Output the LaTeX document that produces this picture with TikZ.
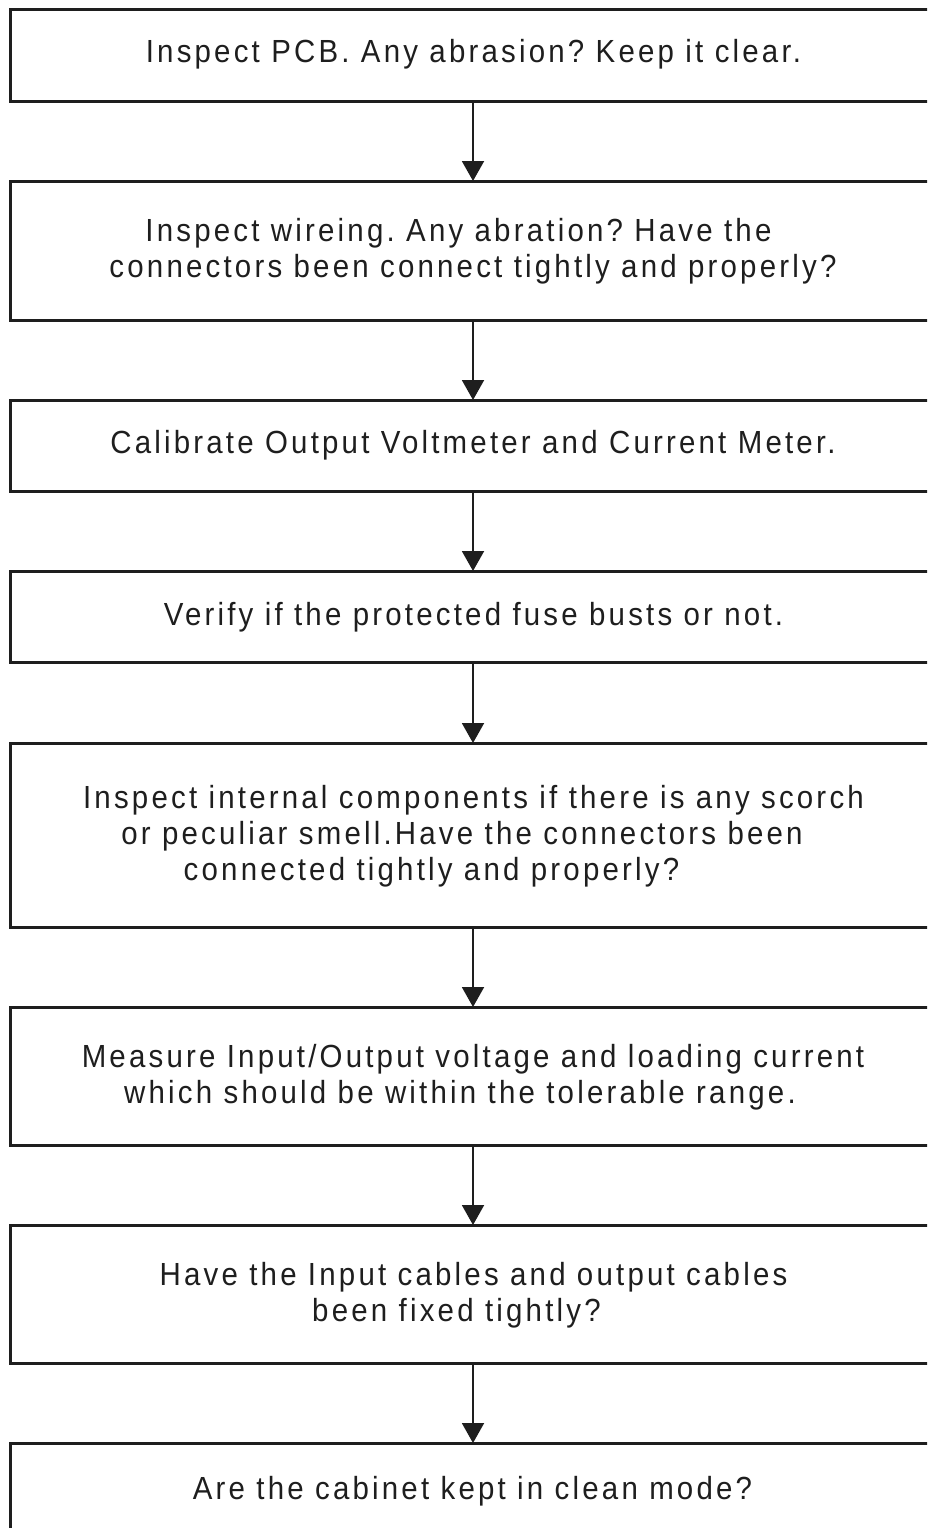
\documentclass[tikz,border=0pt]{standalone}
\usepackage{fontspec}
\setmainfont{Liberation Sans}[FakeStretch=0.92,LetterSpace=10]
\usetikzlibrary{arrows.meta}
\definecolor{ink}{HTML}{1E1E1E}
\tikzset{
  x=1pt,y=-1pt,
  box/.style={draw=ink,line width=3pt,rectangle,outer sep=0pt,inner sep=0pt,minimum width=930pt},
  txt/.style={anchor=base,inner sep=0pt,text=ink,font=\fontsize{32pt}{36pt}\selectfont},
  arr/.style={draw=ink,line width=2pt,-{Triangle[width=22pt,length=20pt]}}
}
\begin{document}
\frenchspacing
\begin{tikzpicture}
\useasboundingbox (0,0) rectangle (927,1528);
\clip (0,0) rectangle (927,1528);
\coordinate (ax) at (473,0);
\node[box,minimum height=91pt]  (b1) at (475,55.5) {};
\node[box,minimum height=139pt] (b2) at (475,250.5) {};
\node[box,minimum height=91pt]  (b3) at (475,445.5) {};
\node[box,minimum height=91pt]  (b4) at (475,616.5) {};
\node[box,minimum height=184pt] (b5) at (475,835) {};
\node[box,minimum height=138pt] (b6) at (475,1076) {};
\node[box,minimum height=138pt] (b7) at (475,1294) {};
\node[box,minimum height=140pt] (b8) at (475,1513) {};
\node[txt] (t1) at (473.5,63) {Inspect PCB. Any abrasion? Keep it clear.};
\node[txt] (t2a) at (458.5,241) {Inspect wireing. Any abration? Have the};
\node[txt] (t2b) at (473,277) {connectors been connect tightly and properly?};
\node[txt] (t3) at (473,453) {Calibrate Output Voltmeter and Current Meter.};
\node[txt] (t4) at (473.5,625) {Verify if the protected fuse busts or not.};
\node[txt] (t5a) at (473.5,808) {Inspect internal components if there is any scorch};
\node[txt] (t5b) at (462,844) {or peculiar smell.Have the connectors been};
\node[txt] (t5c) at (431.5,880) {connected tightly and properly?};
\node[txt] (t6a) at (473,1067) {Measure Input/Output voltage and loading current};
\node[txt] (t6b) at (460,1103) {which should be within the tolerable range.};
\node[txt] (t7a) at (473.5,1285) {Have the Input cables and output cables};
\node[txt] (t7b) at (456.5,1321) {been fixed tightly?};
\node[txt] (t8) at (472.5,1499) {Are the cabinet kept in clean mode?};
\draw[arr] (b1.south -| ax) -- (b2.north -| ax);
\draw[arr] (b2.south -| ax) -- (b3.north -| ax);
\draw[arr] (b3.south -| ax) -- (b4.north -| ax);
\draw[arr] (b4.south -| ax) -- (b5.north -| ax);
\draw[arr] (b5.south -| ax) -- (b6.north -| ax);
\draw[arr] (b6.south -| ax) -- (b7.north -| ax);
\draw[arr] (b7.south -| ax) -- (b8.north -| ax);
\end{tikzpicture}
\end{document}
